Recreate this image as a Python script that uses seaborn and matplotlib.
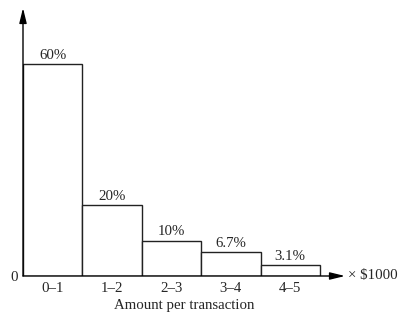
import matplotlib
matplotlib.use("Agg")
import matplotlib.pyplot as plt
import seaborn as sns
import pandas as pd

categories = ["0–1", "1–2", "2–3", "3–4", "4–5"]
values = [60, 20, 10, 6.7, 3.1]
labels = ["60%", "20%", "10%", "6.7%", "3.1%"]

sns.set_style("white")
plt.rcParams['font.family'] = ['Liberation Serif', 'DejaVu Serif']
FS = 10.7

W, H = 398, 314
fig = plt.figure(figsize=(W / 100, H / 100), dpi=100)
x0, x1 = 23, 345
ybase, ytop = 276, 8
ax = fig.add_axes([x0 / W, (H - ybase) / H, (x1 - x0) / W, (ybase - ytop) / H])

df = pd.DataFrame({"cat": categories, "val": values})
sns.barplot(data=df, x="cat", y="val", ax=ax, color="white", width=1.0,
            edgecolor="#222222", linewidth=1.0, saturation=1)

unit = 59.4
ax.set_xlim(-0.5, -0.5 + (x1 - x0) / unit)
ax.set_ylim(0, (ybase - ytop) / 3.53)

for i, (v, lab) in enumerate(zip(values, labels)):
    ax.text(i, v + 0.7, lab, ha="center", va="bottom", fontsize=FS)

for s in ax.spines.values():
    s.set_visible(False)
ax.set_yticks([0])
ax.set_yticklabels(["0"], fontsize=FS)
ax.tick_params(axis="both", length=0, pad=4)
ax.set_xticks(range(len(categories)))
ax.set_xticklabels(categories, fontsize=FS)
ax.set_xlabel("Amount per transaction", fontsize=FS, labelpad=3)
ax.set_ylabel("")

# axes arrows
ax.annotate("", xy=(1, 0), xytext=(0, 0), xycoords="axes fraction",
            arrowprops=dict(arrowstyle="-|>,head_length=0.9,head_width=0.22", color="black", lw=1, shrinkA=0, shrinkB=0))
ax.annotate("", xy=(0, 1), xytext=(0, 0), xycoords="axes fraction",
            arrowprops=dict(arrowstyle="-|>,head_length=0.9,head_width=0.22", color="black", lw=1, shrinkA=0, shrinkB=0))
ax.text(1.01, 0, "× $1000", transform=ax.transAxes, ha="left", va="center", fontsize=FS)

fig.savefig("out.png", dpi=100)
